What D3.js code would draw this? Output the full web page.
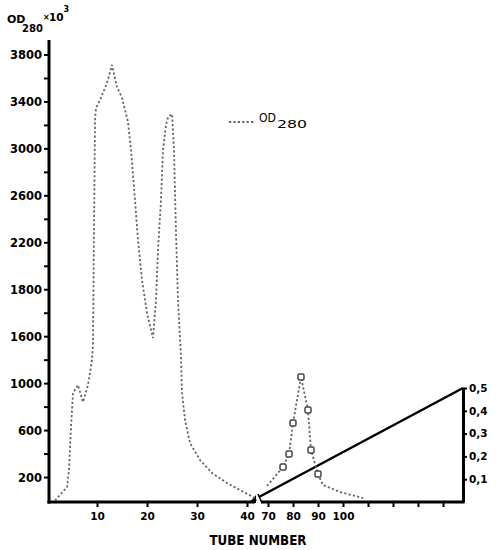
<!DOCTYPE html>
<html><head><meta charset="utf-8">
<script src="https://cdn.jsdelivr.net/npm/d3@7"></script>
<style>
body{margin:0;background:#fff;}
svg{display:block;font-family:"DejaVu Sans",sans-serif;}
</style></head>
<body><svg id="c" width="498" height="550"></svg>
<script>
// OD280 (x10^3) — tubes 0–42, left part of the broken axis
const leftTubes = [1.6,4.0,4.4,4.8,5.2,6.2,7.2,8.2,9.0,9.2,9.6,9.8,10.6,12.0,13.0,14.0,15.0,16.2,16.8,17.6,18.2,19.0,20.0,21.2,21.8,22.2,22.8,23.2,23.8,24.2,25.0,25.4,25.8,26.2,26.8,27.0,27.6,28.6,30.6,33.0,36.0,38.6,41.2,42.0];
const leftOD = [0,115,260,626,916,984,839,984,1197,1330,3242,3344,3412,3557,3711,3523,3429,3225,2986,2560,2219,1879,1597,1385,1708,2134,2560,2986,3199,3267,3293,2986,2279,1708,1223,916,686,490,345,234,149,89,30,0];
// OD280 — tubes 70–108, right part of the broken axis
const rightTubes = [69.6,76.0,78.4,80.0,83.2,86.0,87.2,90.0,92.0,98.8,108.0];
const rightOD = [124,285,396,660,1052,771,430,226,132,72,21];
const markedTubes = [76.0,78.4,80.0,83.2,86.0,87.2,90.0];
// gradient (right axis 0–0.5)
const gradTubes = [66.4,148];
const gradValues = [0.022,0.5];
// tick labels
const yTickValues = [200,600,1000,1400,1800,2200,2600,3000,3400,3800];
const yTickLabels = ["200","600","1000","1600","1800","2200","2600","3000","3400","3800"];
const yMinorTicks = [400,800,1200,1600,2000,2400,2800,3200,3600];
const xLeftTicks = [10,20,30,40];
const xRightTicks = [70,80,90,100,110,120,130,140];
const xRightLabeled = [70,80,90,100];
const rTickValues = [0.1,0.2,0.3,0.4,0.5];

const svg = d3.select("#c");
const yL = d3.scaleLinear().domain([0,3800]).range([500.5,54.5]);
const xL = d3.scaleLinear().domain([0,10]).range([47,97]);
const xR = d3.scaleLinear().domain([70,80]).range([268,293]);
const yR = d3.scaleLinear().domain([0,0.5]).range([502,388]);
const baseY = 502;

// left y axis
const gy = svg.append("g").attr("transform","translate(49,0)");
gy.call(d3.axisLeft(yL).tickValues(yTickValues).tickSize(5).tickSizeOuter(0)
   .tickFormat((d,i)=>yTickLabels[i]));
gy.select(".domain").remove();
gy.selectAll("text").attr("font-size",11.5).attr("font-weight","bold").attr("x",-7).attr("dy","0.35em").attr("font-family","DejaVu Sans");
gy.selectAll("line").attr("stroke","#000").attr("stroke-width",2);
const gym = svg.append("g").attr("transform","translate(49,0)");
gym.call(d3.axisLeft(yL).tickValues(yMinorTicks).tickSize(5).tickFormat(""));
gym.select(".domain").remove();
gym.selectAll("line").attr("stroke","#000").attr("stroke-width",2);
svg.append("line").attr("x1",49).attr("x2",49).attr("y1",40).attr("y2",baseY+1.5)
  .attr("stroke","#000").attr("stroke-width",3);

// bottom axis, left segment
const gxl = svg.append("g").attr("transform",`translate(0,${baseY})`);
gxl.call(d3.axisBottom(xL).tickValues(xLeftTicks).tickSize(5).tickFormat(d3.format("d")));
gxl.select(".domain").remove();
gxl.selectAll("line").attr("stroke","#000").attr("stroke-width",2);
gxl.selectAll("text").attr("font-size",10.5).attr("font-weight","bold").attr("y",11).attr("font-family","DejaVu Sans");
svg.append("line").attr("x1",47.5).attr("x2",255).attr("y1",baseY).attr("y2",baseY)
  .attr("stroke","#000").attr("stroke-width",3);
// break marks
svg.append("path").attr("d","M249,503L256,503L256,495Z").attr("fill","#000");
svg.append("line").attr("x1",258).attr("y1",494).attr("x2",262).attr("y2",503)
  .attr("stroke","#000").attr("stroke-width",1.5);

// bottom axis, right segment
const gxr = svg.append("g").attr("transform",`translate(0,${baseY})`);
gxr.call(d3.axisBottom(xR).tickValues(xRightTicks).tickSize(5)
   .tickFormat(d=>xRightLabeled.includes(d)?String(d):""));
gxr.select(".domain").remove();
gxr.selectAll("line").attr("stroke","#000").attr("stroke-width",2);
gxr.selectAll("text").attr("font-size",10.5).attr("font-weight","bold").attr("y",11).attr("font-family","DejaVu Sans");
svg.append("line").attr("x1",261).attr("x2",464.5).attr("y1",baseY).attr("y2",baseY)
  .attr("stroke","#000").attr("stroke-width",3);

// right axis
const gr = svg.append("g").attr("transform","translate(463,0)");
gr.call(d3.axisRight(yR).tickValues(rTickValues).tickSize(4).tickSizeOuter(0)
   .tickFormat(d=>d3.format(".1f")(d).replace(".",",")));
gr.select(".domain").attr("stroke","#000").attr("stroke-width",3);
gr.selectAll("line").attr("stroke","#000").attr("stroke-width",2);
gr.selectAll("text").attr("font-size",10.5).attr("font-weight","bold").attr("x",6).attr("font-family","DejaVu Sans");

// gradient line
svg.append("path")
  .datum(gradTubes.map((t,i)=>[t,gradValues[i]]))
  .attr("d",d3.line().x(d=>xR(d[0])).y(d=>yR(d[1])))
  .attr("fill","none").attr("stroke","#000").attr("stroke-width",2.5);

// OD280 curves
const dashStyle = sel => sel.attr("fill","none").attr("stroke","#666")
  .attr("stroke-width",1.8).attr("stroke-dasharray","2.2,2.2");
svg.append("path")
  .datum(leftTubes.map((t,i)=>[t,leftOD[i]]))
  .attr("d",d3.line().x(d=>xL(d[0])).y(d=>yL(d[1])))
  .call(dashStyle);
svg.append("path")
  .datum(rightTubes.map((t,i)=>[t,rightOD[i]]))
  .attr("d",d3.line().x(d=>xR(d[0])).y(d=>yL(d[1])))
  .call(dashStyle);
svg.selectAll("rect.mk")
  .data(rightTubes.map((t,i)=>[t,rightOD[i]]).filter(d=>markedTubes.includes(d[0])))
  .join("rect").attr("class","mk")
  .attr("x",d=>xR(d[0])-3).attr("y",d=>yL(d[1])-3)
  .attr("width",6).attr("height",6).attr("rx",1.5)
  .attr("fill","#fff").attr("stroke","#444").attr("stroke-width",1.5);

// axis title
svg.append("text").attr("x",258).attr("y",545).attr("text-anchor","middle")
  .attr("font-size",14).attr("font-weight","bold")
  .attr("textLength",97).attr("lengthAdjust","spacingAndGlyphs")
  .text("TUBE NUMBER");

// y unit label
const ut = svg.append("g").attr("font-weight","bold");
ut.append("text").attr("x",7).attr("y",23).attr("font-size",11).text("OD");
ut.append("text").attr("x",22).attr("y",32).attr("font-size",10).text("280");
ut.append("text").attr("x",43).attr("y",20).attr("font-size",8).text("×");
ut.append("text").attr("x",49).attr("y",21).attr("font-size",10.5).text("10");
ut.append("text").attr("x",63.5).attr("y",12).attr("font-size",8).text("3");

// legend
svg.append("line").attr("x1",229).attr("x2",255).attr("y1",122).attr("y2",122).call(dashStyle);
svg.append("text").attr("x",259).attr("y",122).attr("font-size",13)
  .attr("textLength",17).attr("lengthAdjust","spacingAndGlyphs").text("OD");
svg.append("text").attr("x",277).attr("y",128).attr("font-size",10)
  .attr("textLength",30).attr("lengthAdjust","spacingAndGlyphs").text("280");
</script></body></html>
